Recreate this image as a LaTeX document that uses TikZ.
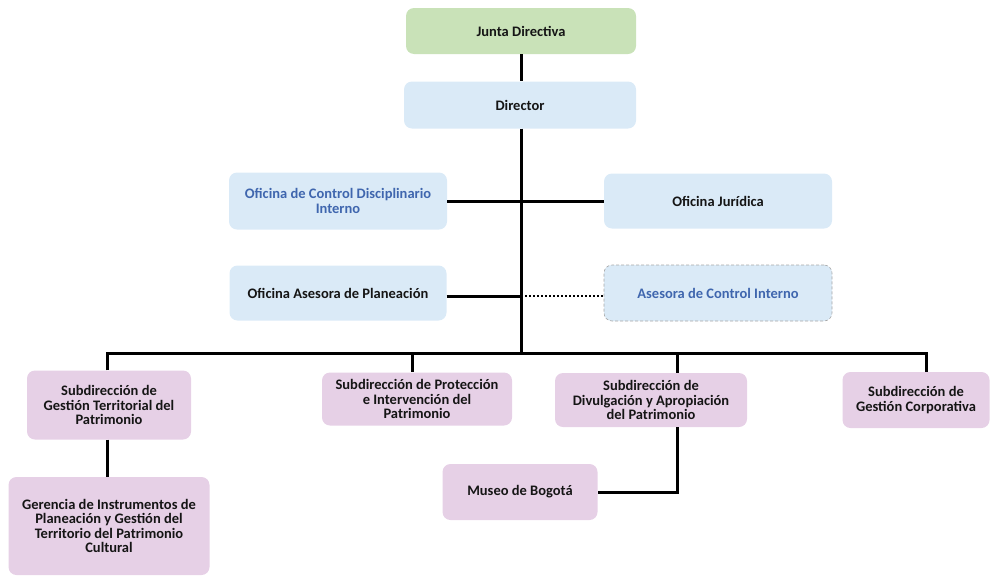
\documentclass[tikz,border=0pt]{standalone}
\usepackage{fontspec}
\setmainfont{Carlito}
\definecolor{gfill}{HTML}{C9E2B8}
\definecolor{bfill}{HTML}{DAEAF7}
\definecolor{pfill}{HTML}{E6D0E6}
\definecolor{btext}{HTML}{3F66AE}
\definecolor{dtext}{HTML}{151515}
\tikzset{
  box/.style={rounded corners=8pt, align=center, font=\bfseries\fontsize{14.5}{14.5}\selectfont, text=dtext, inner sep=2pt},
  gbox/.style={box, fill=gfill},
  bbox/.style={box, fill=bfill},
  pbox/.style={box, fill=pfill},
  conn/.style={line width=3pt, black},
  dotconn/.style={line width=2.6pt, black, dash pattern=on 2pt off 2pt},
}
\begin{document}
\begin{tikzpicture}[x=1pt,y=-1pt]
\useasboundingbox (0,0) rectangle (995,576);
\node[gbox, minimum width=230pt, minimum height=46pt] (junta) at (521,31) {Junta Directiva};
\node[bbox, minimum width=232pt, minimum height=47pt] (dir) at (520,105) {Director};
\node[bbox, minimum width=218pt, minimum height=57pt, text=btext] (ocdi) at (338,201) {Oficina de Control Disciplinario\\Interno};
\node[bbox, minimum width=228pt, minimum height=55pt] (ojur) at (718,201) {Oficina Jurídica};
\node[bbox, minimum width=217pt, minimum height=55pt] (oap) at (338,293) {Oficina Asesora de Planeación};
\node[bbox, minimum width=228pt, minimum height=56pt, text=btext, draw=gray!70, densely dashed, line width=0.6pt] (aci) at (718,293) {Asesora de Control Interno};
\node[pbox, minimum width=164pt, minimum height=69pt] (sgt) at (109,405) {Subdirección de\\Gestión Territorial del\\Patrimonio};
\node[pbox, minimum width=190pt, minimum height=53pt] (spi) at (417,399) {Subdirección de Protección\\e Intervención del\\Patrimonio};
\node[pbox, minimum width=192pt, minimum height=54pt] (sda) at (651,400) {Subdirección de\\Divulgación y Apropiación\\del Patrimonio};
\node[pbox, minimum width=147pt, minimum height=56pt] (sgc) at (916,400) {Subdirección de\\Gestión Corporativa};
\node[pbox, minimum width=201pt, minimum height=98pt] (ger) at (109,526) {Gerencia de Instrumentos de\\Planeación y Gestión del\\Territorio del Patrimonio\\Cultural};
\node[pbox, minimum width=155pt, minimum height=56pt] (mus) at (520,492) {Museo de Bogotá};
\coordinate (bus) at (521,353);
\coordinate (tap) at (521,296);
\coordinate (busL) at (107,353);
\coordinate (busR) at (926,353);
\coordinate (busP) at (412,353);
\coordinate (busD) at (677,353);
\draw[conn] (junta.south -| bus) -- (dir.north -| bus);
\draw[conn] (dir.south -| bus) -- (bus);
\draw[conn] (ocdi.east) -- (ojur.west);
\draw[conn] (oap.east |- tap) -- (tap);
\draw[dotconn] (tap) -- (aci.west |- tap);
\draw[conn] (sgt.north -| busL) -- (busL) -- (busR) -- (sgc.north -| busR);
\draw[conn] (busP) -- (spi.north -| busP);
\draw[conn] (busD) -- (sda.north -| busD);
\draw[conn] (sgt.south -| busL) -- (ger.north -| busL);
\draw[conn] (sda.south -| busD) |- (mus.east);
\end{tikzpicture}
\end{document}
